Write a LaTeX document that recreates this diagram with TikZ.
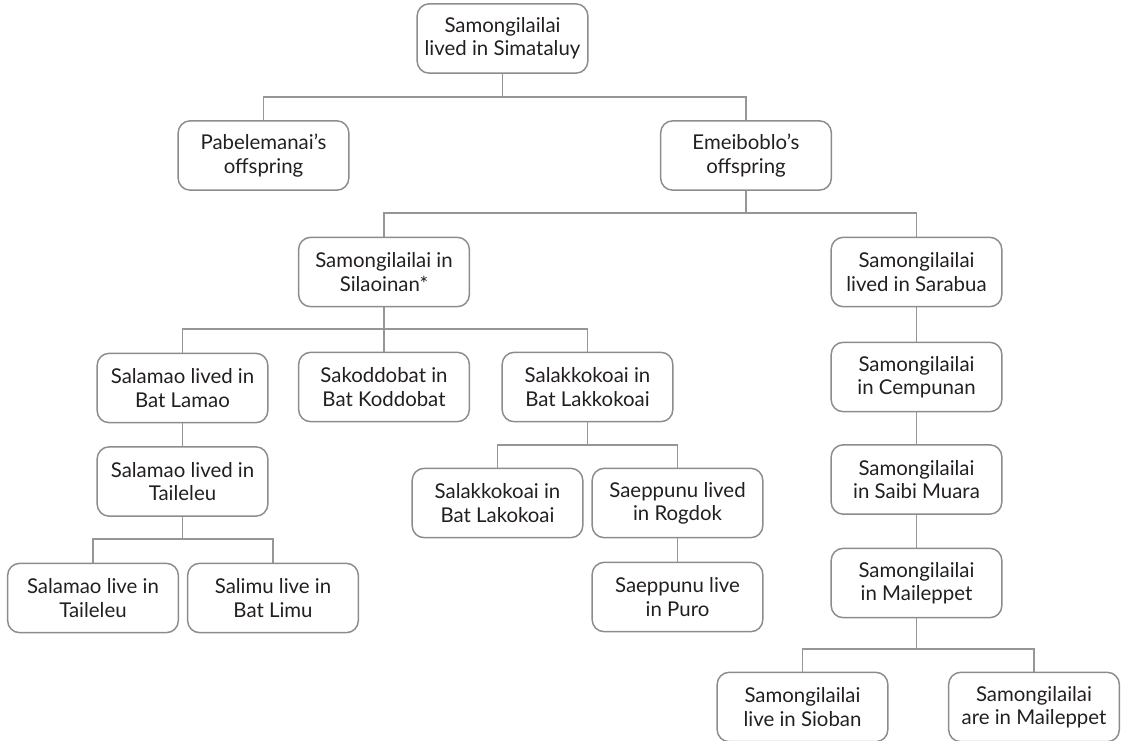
\documentclass[tikz,border=0pt]{standalone}
\usepackage{fontspec}
\setmainfont{Lato}
\definecolor{boxline}{RGB}{140,140,142}
\definecolor{conline}{RGB}{150,150,152}
\definecolor{txt}{RGB}{35,31,32}
\begin{document}
\begin{tikzpicture}[x=0.75pt,y=-0.75pt,
  box/.style={draw=boxline, line width=1.1pt, rounded corners=9pt, minimum width=128pt, minimum height=52pt, inner sep=1pt, align=center, text=txt, font=\fontsize{15.3}{17.4}\selectfont},
  conn/.style={draw=conline, line width=1.1pt}]
\useasboundingbox (0,0) rectangle (1127,740);
% nodes
\node[box] (top) at (502.5,38.5) {Samongilailai\\lived in Simataluy};
\node[box] (pab) at (263.5,155.5) {Pabelemanai’s\\offspring};
\node[box] (eme) at (746,155.5) {Emeiboblo’s\\offspring};
\node[box] (sil) at (384,272) {Samongilailai in\\Silaoinan*};
\node[box] (sar) at (916.5,272) {Samongilailai\\lived in Sarabua};
\node[box] (lam) at (182.5,388) {Salamao lived in\\Bat Lamao};
\node[box] (kod) at (384,387) {Sakoddobat in\\Bat Koddobat};
\node[box] (lak) at (587.5,387) {Salakkokoai in\\Bat Lakkokoai};
\node[box] (tai) at (182.5,481.5) {Salamao lived in\\Taileleu};
\node[box] (salt) at (93,598) {Salamao live in\\Taileleu};
\node[box] (lim) at (273,598) {Salimu live in\\Bat Limu};
\node[box] (lako) at (497.5,503) {Salakkokoai in\\Bat Lakokoai};
\node[box] (rog) at (677.5,503) {Saeppunu lived\\in Rogdok};
\node[box] (puro) at (677.5,597) {Saeppunu live\\in Puro};
\node[box] (cem) at (916.5,377) {Samongilailai\\in Cempunan};
\node[box] (sai) at (916.5,479.5) {Samongilailai\\in Saibi Muara};
\node[box] (mai) at (916.5,583) {Samongilailai\\in Maileppet};
\node[box] (sio) at (802.5,707) {Samongilailai\\live in Sioban};
\node[box] (are) at (1034,707) {Samongilailai\\are in Maileppet};
% bus coordinates
\coordinate (b1) at (502.5,97);
\coordinate (b2) at (746,213);
\coordinate (b3) at (384,329);
\coordinate (b4) at (587.5,445);
\coordinate (b5) at (182.5,539);
\coordinate (b6) at (916.5,649);
% connectors
\draw[conn] (top) -- (b1);
\draw[conn] (b1) -| (pab);
\draw[conn] (b1) -| (eme);
\draw[conn] (eme) -- (b2);
\draw[conn] (b2) -| (sil);
\draw[conn] (b2) -| (sar);
\draw[conn] (sil) -- (kod);
\draw[conn] (b3) -| (lam);
\draw[conn] (b3) -| (lak);
\draw[conn] (lam) -- (tai);
\draw[conn] (lak) -- (b4);
\draw[conn] (b4) -| (lako);
\draw[conn] (b4) -| (rog);
\draw[conn] (rog) -- (puro);
\draw[conn] (tai) -- (b5);
\draw[conn] (b5) -| (salt);
\draw[conn] (b5) -| (lim);
\draw[conn] (sar) -- (cem);
\draw[conn] (cem) -- (sai);
\draw[conn] (sai) -- (mai);
\draw[conn] (mai) -- (b6);
\draw[conn] (b6) -| (sio);
\draw[conn] (b6) -| (are);
\end{tikzpicture}
\end{document}
